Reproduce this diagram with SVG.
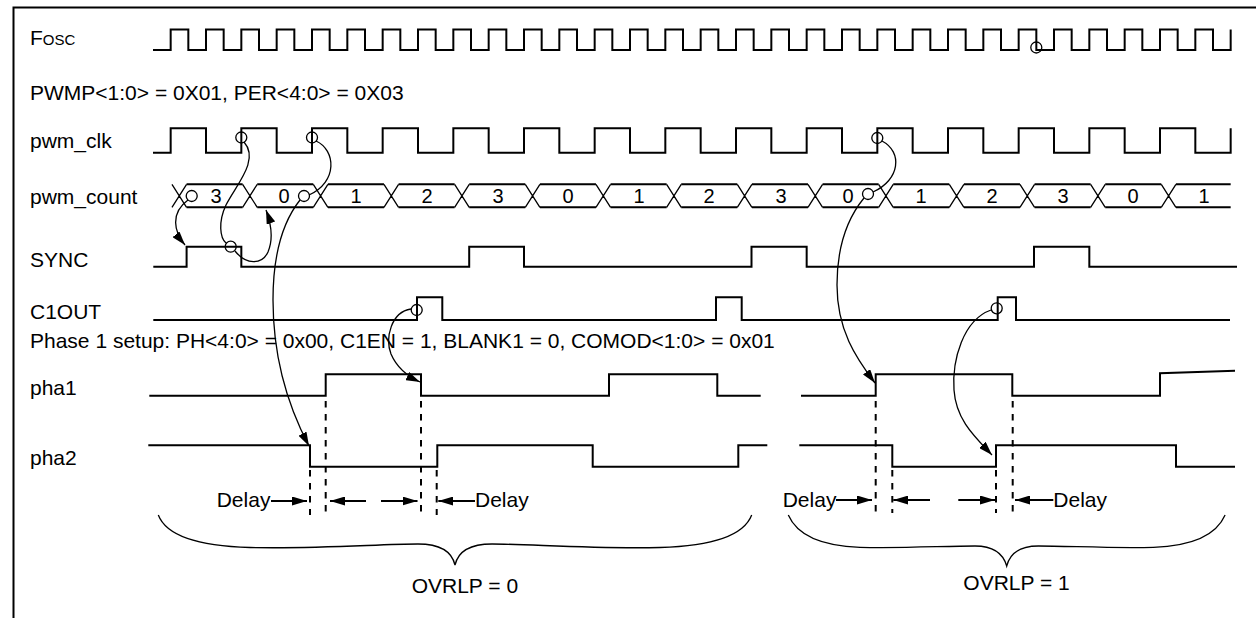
<svg xmlns="http://www.w3.org/2000/svg" width="1256" height="618" viewBox="0 0 1256 618">
<style>
text{font-family:"Liberation Sans",Arial,Helvetica,sans-serif;font-size:21px;fill:#000}
.v{font-size:20px;text-anchor:middle}
.w{fill:none;stroke:#000;stroke-width:2;stroke-linejoin:miter;stroke-linecap:butt}
.x{fill:none;stroke:#000;stroke-width:1.3}
.c{fill:none;stroke:#000;stroke-width:1.3}
.cv{fill:none;stroke:#000;stroke-width:1.3;marker-end:url(#ah)}
.d{fill:none;stroke:#000;stroke-width:2;stroke-dasharray:6.5 6.5}
.da{fill:none;stroke:#000;stroke-width:2;marker-end:url(#sh)}
.br{fill:none;stroke:#000;stroke-width:1.3}
</style>
<defs>
<marker id="ah" markerUnits="userSpaceOnUse" viewBox="0 0 14 9" refX="14" refY="4.5" markerWidth="14" markerHeight="9" orient="auto"><path d="M0,0 L14,4.5 L0,9 Z" fill="#000"/></marker>
<marker id="sh" markerUnits="userSpaceOnUse" viewBox="0 0 15 9" refX="15" refY="4.5" markerWidth="15" markerHeight="9" orient="auto"><path d="M0,0 L15,4.5 L0,9 Z" fill="#000"/></marker>
</defs>
<rect width="1256" height="618" fill="#fff"/>
<path d="M13.5,618 V7.5 H1256" class="w"/>

<g id="fosc">
<text x="30" y="45">F<tspan font-size="15">OSC</tspan></text>
<path class="w" d="M153,50 H170.67 V29.5 H188.33 V50 H206 V29.5 H223.67 V50 H241.33 V29.5 H259 V50 H276.67 V29.5 H294.33 V50 H312 V29.5 H329.67 V50 H347.33 V29.5 H365 V50 H382.67 V29.5 H400.33 V50 H418 V29.5 H435.67 V50 H453.33 V29.5 H471 V50 H488.67 V29.5 H506.33 V50 H524 V29.5 H541.67 V50 H559.33 V29.5 H577 V50 H594.67 V29.5 H612.33 V50 H630 V29.5 H647.67 V50 H665.33 V29.5 H683 V50 H700.67 V29.5 H718.33 V50 H736 V29.5 H753.67 V50 H771.33 V29.5 H789 V50 H806.67 V29.5 H824.33 V50 H842 V29.5 H859.67 V50 H877.33 V29.5 H895 V50 H912.67 V29.5 H930.33 V50 H948 V29.5 H965.67 V50 H983.33 V29.5 H1001 V50 H1018.67 V29.5 H1036.33 V50 H1054 V29.5 H1071.67 V50 H1089.33 V29.5 H1107 V50 H1124.67 V29.5 H1142.33 V50 H1160 V29.5 H1177.67 V50 H1195.33 V29.5 H1213 V50 H1230.67 V29.5"/>
<circle class="c" cx="1036.3" cy="47.5" r="5.5"/>
</g>

<g id="pwmp">
<text x="30" y="100">PWMP&lt;1:0&gt; = 0X01, PER&lt;4:0&gt; = 0X03</text>
</g>

<g id="pwm_clk">
<text x="30" y="148">pwm_clk</text>
<path class="w" d="M153,152.7 H170.67 V128.3 H206 V152.7 H241.33 V128.3 H276.67 V152.7 H312 V128.3 H347.33 V152.7 H382.67 V128.3 H418 V152.7 H453.33 V128.3 H488.67 V152.7 H524 V128.3 H559.33 V152.7 H594.67 V128.3 H630 V152.7 H665.33 V128.3 H700.67 V152.7 H736 V128.3 H771.33 V152.7 H806.67 V128.3 H842 V152.7 H877.33 V128.3 H912.67 V152.7 H948 V128.3 H983.33 V152.7 H1018.67 V128.3 H1054 V152.7 H1089.33 V128.3 H1124.67 V152.7 H1160 V128.3 H1195.33 V152.7 H1230.67 V128.3"/>
<circle class="c" cx="241.3" cy="137.5" r="5.5"/>
<circle class="c" cx="312" cy="137.5" r="5.5"/>
<circle class="c" cx="877.3" cy="138" r="5.5"/>
</g>

<g id="pwm_count">
<text x="30" y="204">pwm_count</text>
<path class="w" d="M186.57,184.3 H242.63 M257.23,184.3 H313.3 M327.9,184.3 H383.97 M398.57,184.3 H454.63 M469.23,184.3 H525.3 M539.9,184.3 H595.97 M610.57,184.3 H666.63 M681.23,184.3 H737.3 M751.9,184.3 H807.97 M822.57,184.3 H878.63 M893.23,184.3 H949.3 M963.9,184.3 H1019.97 M1034.57,184.3 H1090.63 M1105.23,184.3 H1161.3 M1175.9,184.3 H1230.67 M186.57,207.3 H242.63 M257.23,207.3 H313.3 M327.9,207.3 H383.97 M398.57,207.3 H454.63 M469.23,207.3 H525.3 M539.9,207.3 H595.97 M610.57,207.3 H666.63 M681.23,207.3 H737.3 M751.9,207.3 H807.97 M822.57,207.3 H878.63 M893.23,207.3 H949.3 M963.9,207.3 H1019.97 M1034.57,207.3 H1090.63 M1105.23,207.3 H1161.3 M1175.9,207.3 H1230.67"/>
<path class="x" d="M171.97,184.3 L186.57,207.3 M171.97,207.3 L186.57,184.3 M242.63,184.3 L257.23,207.3 M242.63,207.3 L257.23,184.3 M313.3,184.3 L327.9,207.3 M313.3,207.3 L327.9,184.3 M383.97,184.3 L398.57,207.3 M383.97,207.3 L398.57,184.3 M454.63,184.3 L469.23,207.3 M454.63,207.3 L469.23,184.3 M525.3,184.3 L539.9,207.3 M525.3,207.3 L539.9,184.3 M595.97,184.3 L610.57,207.3 M595.97,207.3 L610.57,184.3 M666.63,184.3 L681.23,207.3 M666.63,207.3 L681.23,184.3 M737.3,184.3 L751.9,207.3 M737.3,207.3 L751.9,184.3 M807.97,184.3 L822.57,207.3 M807.97,207.3 L822.57,184.3 M878.63,184.3 L893.23,207.3 M878.63,207.3 L893.23,184.3 M949.3,184.3 L963.9,207.3 M949.3,207.3 L963.9,184.3 M1019.97,184.3 L1034.57,207.3 M1019.97,207.3 L1034.57,184.3 M1090.63,184.3 L1105.23,207.3 M1090.63,207.3 L1105.23,184.3 M1161.3,184.3 L1175.9,207.3 M1161.3,207.3 L1175.9,184.3"/>
<text class="v" x="216" y="203">3</text>
<text class="v" x="284" y="203">0</text>
<text class="v" x="356" y="203">1</text>
<text class="v" x="427" y="203">2</text>
<text class="v" x="498" y="203">3</text>
<text class="v" x="568" y="203">0</text>
<text class="v" x="639" y="203">1</text>
<text class="v" x="709" y="203">2</text>
<text class="v" x="781" y="203">3</text>
<text class="v" x="848" y="203">0</text>
<text class="v" x="921" y="203">1</text>
<text class="v" x="992" y="203">2</text>
<text class="v" x="1063" y="203">3</text>
<text class="v" x="1133" y="203">0</text>
<text class="v" x="1204" y="203">1</text>
<circle class="c" cx="191.7" cy="196" r="5.5"/>
<circle class="c" cx="304" cy="196" r="5.5"/>
<circle class="c" cx="868" cy="194" r="5.5"/>
</g>

<g id="sync">
<text x="30" y="266.7">SYNC</text>
<path class="w" d="M153.3,266.7 H186.6 V246.7 H241.33 V266.7 H469.2 V246.7 H524 V266.7 H751.5 V246.7 H806.67 V266.7 H1034 V246.7 H1089.33 V266.7 H1237"/>
<circle class="c" cx="230.7" cy="246.7" r="5.5"/>
</g>

<g id="c1out">
<text x="30" y="319">C1OUT</text>
<path class="w" d="M153.3,320 H417 V297.3 H442.3 V320 H716 V297.3 H741.7 V320 H997.7 V297.3 H1016 V320 H1230"/>
<circle class="c" cx="416.7" cy="310" r="5.5"/>
<circle class="c" cx="996.7" cy="308.3" r="5.5"/>
</g>

<g id="phase_setup">
<text x="30" y="347.5">Phase 1 setup: PH&lt;4:0&gt; = 0x00, C1EN = 1, BLANK1 = 0, COMOD&lt;1:0&gt; = 0x01</text>
</g>

<g id="pha1">
<text x="30" y="395">pha1</text>
<path class="w" d="M149.3,395.7 H325.7 V374.3 H421 V395.7 H609 V374.3 H717.3 V395.7 H760.7 M801,395.7 H875.7 V374.3 H1012.3 V395.7 H1160 V373.3 L1235,370.7"/>
</g>

<g id="pha2">
<text x="30" y="465">pha2</text>
<path class="w" d="M148.3,445.3 H310 V466.7 H437.3 V445.3 H592.7 V466.7 H738.3 V445.3 H767.3 M799.3,445.3 H892.3 V466.7 H996 V445.3 H1176 V466.7 H1235"/>
</g>

<g id="delays">
<path class="d" d="M325.7,401 V515 M421,401 V515 M310,470 V515 M436.7,470 V515 M875.7,401 V513 M1012.7,401 V513 M892.3,470 V513 M996,470 V513"/>
<text x="216.7" y="506.7">Delay</text>
<path class="da" d="M271,501 H307"/>
<path class="da" d="M366,501 H330"/>
<path class="da" d="M381,501 H417.5"/>
<path class="da" d="M475,501 H438.3"/>
<text x="475" y="506.7">Delay</text>
<text x="782.7" y="506.7">Delay</text>
<path class="da" d="M836,500 H872"/>
<path class="da" d="M930,500 H893.3"/>
<path class="da" d="M958.3,500 H995"/>
<path class="da" d="M1053.3,500 H1015"/>
<text x="1053.3" y="506.7">Delay</text>
</g>

<g id="ovrlp0">
<path class="br" d="M158.3,515 C166,535 195,546 250,547.5 C320,549 380,544 418,544 C440,544 452,552 455,565 C458,552 470,544 492,544 C530,544 590,549 660,547.5 C715,546 744,535 751.7,515"/>
<text x="411.7" y="593.3">OVRLP = 0</text>
</g>

<g id="ovrlp1">
<path class="br" d="M788.3,515 C797,535 822,546 860,547.3 C900,548.5 945,546 975,546 C992,546 1003,553 1006.7,566 C1010,553 1021,546 1038.4,546 C1068.4,546 1113.4,548.5 1153.4,547.3 C1191.4,546 1216.4,535 1225.1,515"/>
<text x="963.3" y="590">OVRLP = 1</text>
</g>

<g id="connectors">
<path class="cv" d="M188,200 C170,213 174,232 185,245"/>
<path class="c" d="M244,142 C260,160 236,185 226,205 C218,222 220,238 226,243"/>
<path class="cv" d="M235,251 C246,265 262,265 268,252 C273,240 272,226 266,210"/>
<path class="c" d="M316,141 C336,150 338,182 309,195"/>
<path class="cv" d="M300,200 C281,224 273,260 273,300 C273,360 290,410 309,446"/>
<path class="c" d="M882,141 C903,152 900,180 873,192"/>
<path class="cv" d="M864,198 C846,220 837,250 837,285 C837,330 856,358 875,383"/>
<path class="cv" d="M411,309 C391,312 385,338 391,354 C397,368 407,376 420,382"/>
<path class="cv" d="M991,310 C963,320 952,360 954,390 C956,420 975,437 992,455"/>
</g>
</svg>
